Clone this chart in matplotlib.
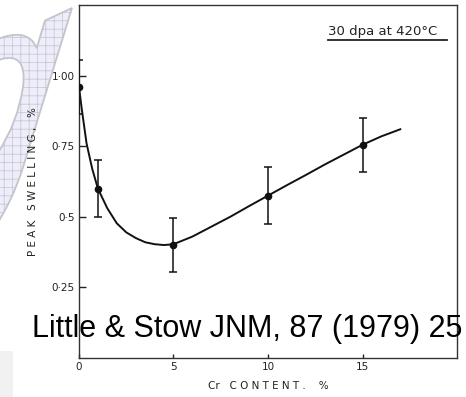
import numpy as np
import matplotlib
matplotlib.use("Agg")
import matplotlib.pyplot as plt
from matplotlib.textpath import TextPath
from matplotlib.patches import PathPatch, Rectangle
from matplotlib.font_manager import FontProperties
from matplotlib.transforms import Affine2D

# Measured peak swelling vs Cr content
cr_pts = [0, 1, 5, 10, 15]
swell_pts = [0.96, 0.60, 0.40, 0.575, 0.755]
swell_err = [0.095, 0.10, 0.095, 0.10, 0.095]

# Hand-drawn trend line through the data
cr_fit = [0, 0.15, 0.4, 0.7, 1.0, 1.5, 2.0, 2.5, 3.0, 3.5, 4.0, 4.5, 5.0,
          6.0, 7.0, 8.0, 9.0, 10.0, 11.0, 12.0, 13.0, 14.0, 15.0, 16.0, 17.0]
swell_fit = [0.96, 0.88, 0.76, 0.67, 0.60, 0.53, 0.477, 0.445, 0.425, 0.41,
             0.403, 0.40, 0.403, 0.43, 0.465, 0.50, 0.538, 0.575, 0.612,
             0.648, 0.685, 0.72, 0.755, 0.785, 0.81]

xticks = [0, 5, 10, 15]
yticks = [0.25, 0.5, 0.75, 1.0]
ytick_labels = ["0·25", "0·5", "0·75", "1·00"]

fig = plt.figure(figsize=(4.66, 3.97), dpi=100)

# faint logo letter behind the plot, placed in pixel coordinates
plt.rcParams["hatch.color"] = "#d8d8ee"
plt.rcParams["hatch.linewidth"] = 0.5
fp = FontProperties(family="DejaVu Sans", style="italic")
tp = TextPath((0, 0), "g", size=1, prop=fp)
shape = Affine2D().skew_deg(8, 25).scale(300)
ext = tp.transformed(shape).get_extents()
tr = shape + Affine2D().translate(72 - ext.x1, 389 - ext.y1)
logo = PathPatch(tp, transform=tr, facecolor="#ededfb", edgecolor="#c4c4ca",
                 lw=1.3, hatch="++", zorder=-1)
fig.patches.append(logo)
fig.patches.append(Rectangle((0, 0), 0.028, 0.115, transform=fig.transFigure,
                             facecolor="#f1f1f1", edgecolor="none", zorder=-1))

ax = fig.add_axes([0.1695, 0.0982, 0.8112, 0.8892])
ax.patch.set_alpha(0)

ax.plot(cr_fit, swell_fit, color="#111111", lw=1.4, zorder=2)
ax.errorbar(cr_pts, swell_pts, yerr=swell_err, fmt="o", color="#111111",
            ms=4.5, elinewidth=1.1, capsize=2.8, capthick=1.1, zorder=3)

ax.set_xlim(0, 20)
ax.set_ylim(0, 1.25)
ax.set_xticks(xticks)
ax.set_yticks(yticks)
ax.set_yticklabels(ytick_labels)
ax.tick_params(direction="in", length=5, width=1.0, colors="#222222",
               labelsize=7.5, pad=3)
ax.tick_params(axis="x", length=3)
for s in ax.spines.values():
    s.set_color("#333333")
    s.set_linewidth(1.0)

ax.set_xlabel("Cr   C O N T E N T .    %", fontsize=7.5, color="#222222",
              labelpad=6)
ax.set_ylabel("P E A K   S W E L L I N G ,   %", fontsize=7.5,
              color="#222222", labelpad=10)

ax.text(0.659, 0.915, "30 dpa at 420°C", transform=ax.transAxes,
        ha="left", va="baseline", fontsize=9.5, color="#222222")
ax.plot([0.659, 0.974], [0.902, 0.902], transform=ax.transAxes,
        color="#222222", lw=1.3, clip_on=False)

fig.text(0.068, 0.151, "Little & Stow JNM, 87 (1979) 25",
         family=["Liberation Sans", "DejaVu Sans"], fontsize=22,
         color="black", ha="left", va="baseline")

fig.savefig("out.png", dpi=100)
